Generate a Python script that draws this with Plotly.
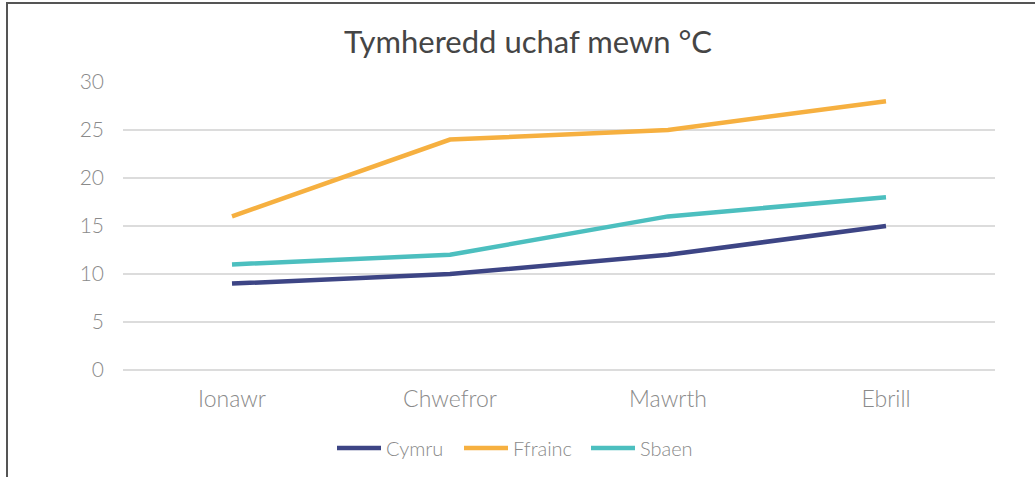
import plotly.graph_objects as go

months = ["Ionawr", "Chwefror", "Mawrth", "Ebrill"]
cymru = [9, 10, 12, 15]
ffrainc = [16, 24, 25, 28]
sbaen = [11, 12, 16, 18]
series_names = ["Cymru", "Ffrainc", "Sbaen"]
colors = ["#3d4585", "#f6b040", "#4cbfbf"]

W, H = 1035, 477
ml, mr, mt, mb = 123, 40, 82, 107
pw, ph = W - ml - mr, H - mt - mb

fig = go.Figure()
for name, vals, c in zip(series_names, [cymru, ffrainc, sbaen], colors):
    fig.add_trace(go.Scatter(x=months, y=vals, name=name, mode="lines",
                             line=dict(color=c, width=4.5)))

def px_x(p):
    return (p - ml) / pw

def px_y(p):
    return (H - mb - p) / ph

fig.add_shape(type="line", xref="paper", yref="paper",
              x0=px_x(7), x1=px_x(1040), y0=px_y(3), y1=px_y(3),
              line=dict(color="#555555", width=2))
fig.add_shape(type="line", xref="paper", yref="paper",
              x0=px_x(7), x1=px_x(7), y0=px_y(2), y1=px_y(480),
              line=dict(color="#555555", width=2))

ytick_font = dict(size=21, color="#8a8a8a", family="Lato, sans-serif", weight=300)
xtick_font = dict(size=23, color="#8a8a8a", family="Lato, sans-serif", weight=300)

fig.update_layout(
    width=W, height=H,
    margin=dict(l=ml, r=mr, t=mt, b=mb, autoexpand=False),
    paper_bgcolor="white", plot_bgcolor="white",
    font=dict(family="Lato, sans-serif", color="#8a8a8a", size=20),
    title=dict(text="Tymheredd uchaf mewn °C", x=528 / W, xref="container",
               xanchor="center", y=1 - 42 / H, yanchor="middle",
               font=dict(size=31, color="#454545", family="Lato, sans-serif")),
    xaxis=dict(range=[-0.5, 3.5], showgrid=False, showline=False,
               ticks="", tickfont=xtick_font, ticklabelstandoff=13),
    yaxis=dict(range=[0, 30], dtick=5, showgrid=True, gridcolor="#dcdcdc",
               gridwidth=1.5, zeroline=True, zerolinecolor="#dcdcdc",
               zerolinewidth=1.5, showline=False, ticks="",
               ticklabelstandoff=18, tickfont=ytick_font),
    legend=dict(orientation="h", x=px_x(332), xanchor="left", xref="paper",
                y=px_y(448), yanchor="middle",
                font=dict(size=20, color="#8a8a8a", family="Lato, sans-serif", weight=300),
                itemwidth=44, tracegroupgap=0, entrywidth=68),
    showlegend=True,
)

fig.write_html("out.html", config={"displayModeBar": False},
               post_script="document.body.style.margin='0';")
